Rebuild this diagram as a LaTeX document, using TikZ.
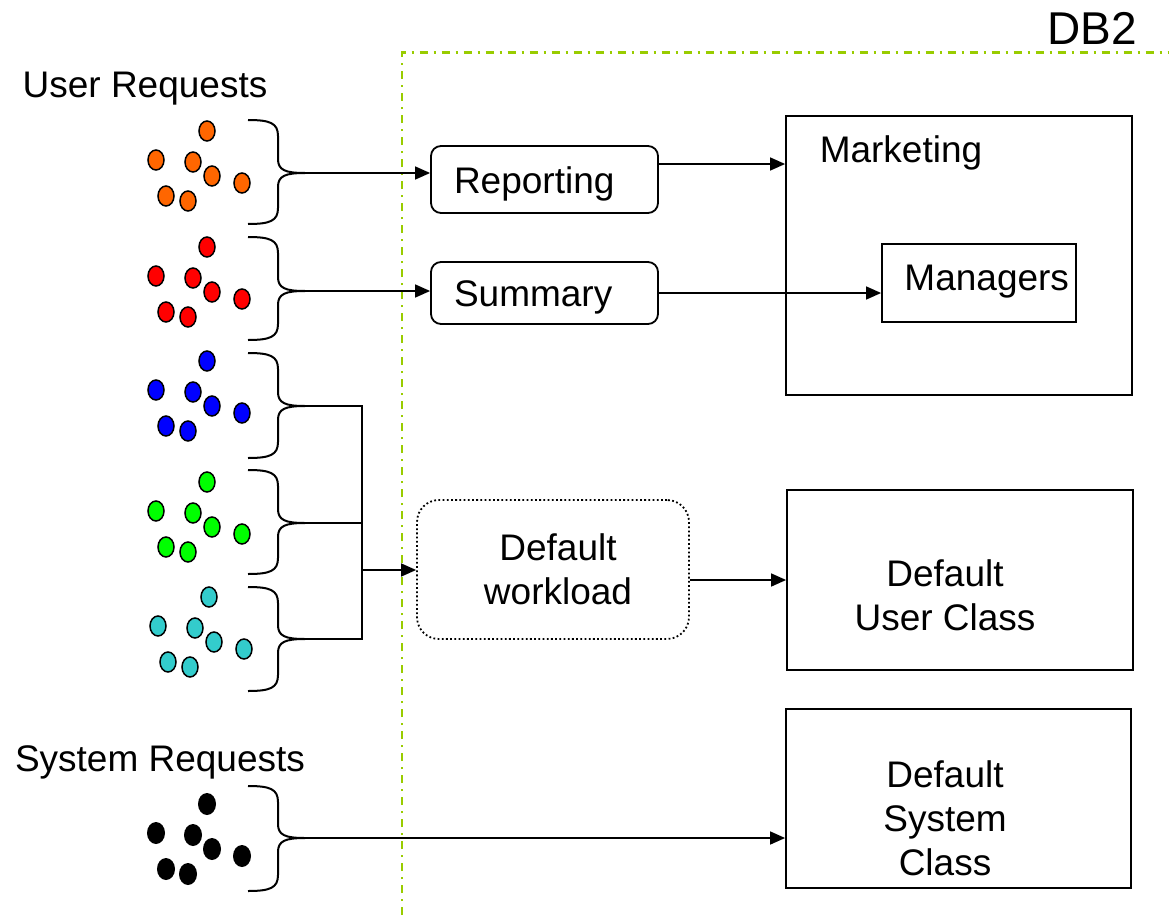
\documentclass[tikz,border=0pt]{standalone}
\usepackage{fontspec}
\setmainfont{Liberation Sans}
\usetikzlibrary{arrows.meta}
\definecolor{dbgreen}{RGB}{153,204,0}
\definecolor{dorange}{RGB}{255,102,0}
\definecolor{dred}{RGB}{255,0,0}
\definecolor{dblue}{RGB}{0,0,255}
\definecolor{dgreen}{RGB}{0,255,0}
\definecolor{dcyan}{RGB}{51,204,204}
\begin{document}
\begin{tikzpicture}[x=1pt,y=-1pt,
  txt/.style={font=\fontsize{37}{44}\selectfont, inner sep=0pt},
  box/.style={draw, line width=1.8pt, txt},
  rbox/.style={box, rounded corners=10pt},
  arr/.style={line width=1.5pt, -{Triangle[length=15pt,width=13pt]}},
  ln/.style={line width=1.5pt},
  brc/.style={line width=2pt, line join=round},
  dotbox/.style={draw, txt, line width=1.8pt, dash pattern=on 1.8pt off 2.4pt, rounded corners=22pt, align=center},
  frame/.style={dbgreen, line width=2.5pt, dash pattern=on 8pt off 6pt on 2pt off 6pt}
]
\useasboundingbox (0,0) rectangle (1169,915);

% DB2 frame
\draw[frame] (402,915) -- (402,52.5) -- (1169,52.5);
\node[font=\fontsize{46}{50}\selectfont, inner sep=0pt, anchor=base] (db2) at (1092,45) {DB2};

% titles
\node[txt, anchor=base] (ur) at (145,98) {User Requests};
\node[txt, anchor=base] (sr) at (160,771) {System Requests};

% dots
\foreach \sx/\sy/\col in {0/0/dorange, 0/116/dred, 0/230/dblue, 0/351/dgreen, 2/466/dcyan} {
  \foreach \px/\py in {207/131, 156/160, 193/162, 212/176, 242/183, 166/196, 188/201} {
    \filldraw[fill=\col, draw=black, line width=1.5pt] (\px+\sx,\py+\sy) ellipse [x radius=8pt, y radius=10pt];
  }
}
\foreach \px/\py in {207/131, 156/160, 193/162, 212/176, 242/183, 166/196, 188/201} {
  \fill[black] (\px,\py+673) ellipse [x radius=9pt, y radius=11pt];
}

% braces
\foreach \T/\M/\B/\n in {120/173/224/b1, 237/291/340/b2, 353/406/458/b3, 470/523/574/b4, 587/639/691/b5, 786/838/891/b6} {
  \draw[brc] (248,\T) .. controls (270,\T) and (278,\T+3) .. (278,\T+16)
     -- (278,\M-14) .. controls (278,\M-3) and (285,\M) .. (305,\M)
     .. controls (285,\M) and (278,\M+3) .. (278,\M+14)
     -- (278,\B-16) .. controls (278,\B-3) and (270,\B) .. (248,\B);
  \coordinate (\n) at (305,\M);
}

% workload boxes
\node[rbox, text width=181pt, align=left, inner xsep=23pt, minimum height=67pt, text height=27pt, text depth=0pt] (rep) at (544.5,179.5) {Reporting};
\node[rbox, text width=181pt, align=left, inner xsep=23pt, minimum height=62pt, text height=27pt, text depth=0pt] (sum) at (544.5,293) {Summary};
\node[dotbox, minimum width=272pt, minimum height=139pt, text width=260pt, inner xsep=0pt, xshift=0pt] (dw) at (553,569.5) {\hspace*{10pt}Default\\\hspace*{10pt}workload};

% service classes
\node[box, minimum width=346pt, minimum height=279pt] (mkt) at (959,255.5) {};
\node[txt, anchor=base] (mkT) at (901,162) {Marketing};
\node[box, text width=180pt, align=right, inner xsep=7pt, minimum height=78pt, text height=27pt, text depth=12pt] (mgr) at (979,283) {Managers};
\node[box, minimum width=346pt, minimum height=180pt] (duc) at (960,580) {};
\node[txt, align=center] (ducT) at (945,595) {Default\\User Class};
\node[box, minimum width=345pt, minimum height=179pt] (dsc) at (958.5,798.5) {};
\node[txt, align=center] (dscT) at (945,818) {Default\\System\\Class};

% connectors
\coordinate (bus) at (362,570);
\draw[arr] (b1) -- (b1 -| rep.west);
\draw[arr] (b2) -- (b2 -| sum.west);
\draw[ln] (b3) -- (b3 -| bus) -- (b5 -| bus) -- (b5);
\draw[ln] (b4) -- (b4 -| bus);
\draw[arr] (bus) -- (bus -| dw.west);
\draw[arr] (b6) -- (b6 -| dsc.west);
\draw[arr] ([yshift=15.5pt]rep.east) coordinate (r1) -- (r1 -| mkt.west);
\draw[arr] (sum.east) -- (sum.east -| mgr.west);
\draw[arr] ([yshift=-10.5pt]dw.east) coordinate (d1) -- (d1 -| duc.west);
\end{tikzpicture}
\end{document}
